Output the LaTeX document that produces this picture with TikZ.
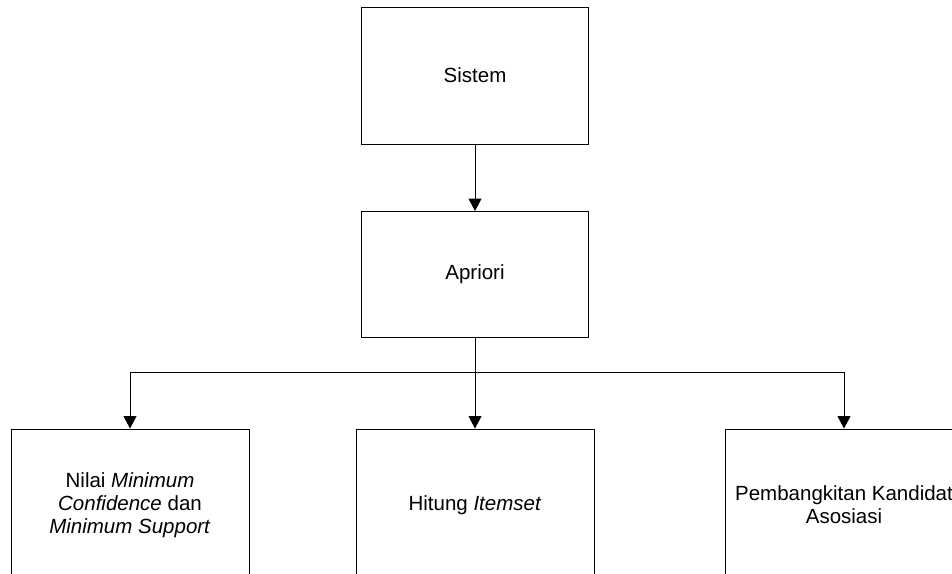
\documentclass[tikz,border=0pt]{standalone}
\usepackage{fontspec}
\setmainfont{Liberation Sans}
\usetikzlibrary{arrows.meta}
\begin{document}
\begin{tikzpicture}[x=1pt,y=-1pt,
  box/.style={draw=black,line width=1pt,rectangle,align=center,
    font=\fontsize{20.5pt}{23pt}\selectfont,inner sep=0pt},
  topbox/.style={box,minimum width=227pt},
  leafbox/.style={box,minimum width=238pt,minimum height=152pt},
  link/.style={line width=1pt,-{Triangle[width=13pt,length=12.5pt]}}]
\useasboundingbox (0,0) rectangle (952,573);
\clip (0,0) rectangle (952,573);
\fill[white] (0,0) rectangle (952,573);

\node[topbox,minimum height=137pt] (sistem) at (475,75.5) {Sistem};
\node[topbox,minimum height=126pt] (apriori) at (475,274.5) {Apriori};

\node[leafbox] (nilai) at (130,505)
  {Nilai \textit{Minimum}\\\textit{Confidence} dan\\\textit{Minimum Support}};
\node[leafbox] (hitung) at (475,505) {Hitung \textit{Itemset}};
\node[leafbox] (bangkit) at (844,505) {Pembangkitan Kandidat\\Asosiasi};

\coordinate (bus) at (475,372);

\draw[link] (sistem.south) -- (apriori.north);
\draw[link] (apriori.south) -- (hitung.north);
\draw[link] (bus) -| (nilai.north);
\draw[link] (bus) -| (bangkit.north);
\end{tikzpicture}
\end{document}
